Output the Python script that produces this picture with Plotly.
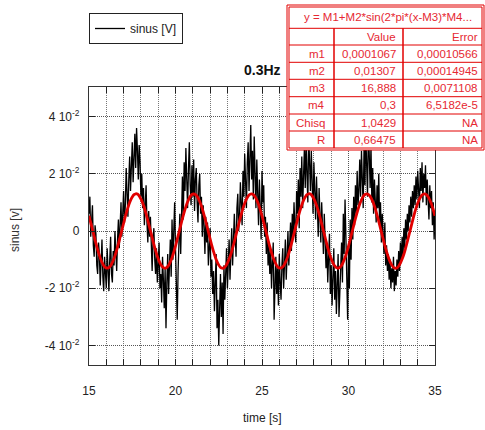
import numpy as np
import plotly.graph_objects as go

# ---------------- data ----------------
sinus_V = [
    0.006, 0.012, -0.002, 0.004, 0.009, -0.005, -0.009, 0.002, -0.001, -0.012,
    -0.015, -0.004, -0.008, -0.019, -0.011, -0.003, -0.016, -0.021, -0.009, -0.014,
    -0.020, -0.006, -0.013, -0.021, -0.010, -0.002, -0.015, -0.018, -0.007, -0.012,
    0.000, -0.009, -0.014, -0.003, 0.004, -0.006, 0.002, 0.010, -0.002, 0.006,
    0.014, 0.003, 0.009, 0.022, 0.012, 0.005, 0.018, 0.026, 0.014, 0.021,
    0.031, 0.017, 0.024, 0.034, 0.022, 0.036, 0.028, 0.018, 0.030, 0.024,
    0.012, 0.020, 0.008, 0.015, 0.002, 0.011, 0.016, 0.003, -0.004, 0.007,
    -0.002, 0.005, -0.008, -0.014, -0.003, 0.001, -0.010, -0.015, -0.006, -0.018,
    -0.012, -0.004, -0.020, -0.015, -0.025, -0.009, -0.017, -0.027, -0.013, -0.034,
    -0.018, -0.008, -0.022, -0.012, -0.003, -0.016, 0.004, -0.010, -0.002, 0.010,
    -0.006,
    -0.020, -0.031, -0.014, -0.004, 0.006, -0.008, 0.012, 0.019, 0.004, 0.024,
    0.014, 0.029, 0.018, 0.008, 0.022, 0.031, 0.016, 0.009, 0.023, 0.012,
    0.025, 0.007, 0.018, 0.022, 0.010, 0.003, 0.016, 0.020, 0.006, 0.012,
    -0.002, 0.009, 0.002, -0.008, 0.005, -0.004, 0.003, -0.012, -0.006, 0.001,
    -0.016, -0.010, -0.022, -0.014, -0.028, -0.019, -0.008, -0.034, -0.024, -0.040,
    -0.022, -0.015, -0.030, -0.018, -0.036, -0.012, -0.024, -0.016, -0.006, -0.020,
    -0.013, -0.003, -0.017, -0.009, 0.001, -0.012, -0.004, 0.006, -0.002, -0.009,
    0.008, 0.013, 0.000, 0.005, 0.017, 0.009, 0.002, 0.021, 0.012, 0.027,
    0.016, 0.008, 0.024, 0.031, 0.014, 0.022, 0.037, 0.018, 0.028, 0.011,
    0.033, 0.020, 0.008, 0.025, 0.014, 0.002, 0.018, 0.007, -0.003, 0.021,
    0.010, 0.016, -0.002, 0.005, -0.008, 0.003, -0.012, -0.004, -0.015, -0.007,
    -0.020, -0.011, -0.004, -0.031, -0.016, -0.009, -0.022, -0.013, -0.026, -0.008,
    -0.018, -0.024, -0.012, -0.006, -0.020, -0.014, -0.003, -0.017, -0.009, 0.000,
    -0.012, -0.005, 0.003, -0.007, 0.006, -0.002, 0.010, 0.002, -0.004, 0.014,
    0.006, 0.018, 0.001, 0.022, 0.012, 0.026, 0.008, 0.019, 0.029, 0.015,
    0.032, 0.020, 0.010, 0.034, 0.023, 0.014, 0.028, 0.018, 0.006, 0.024,
    0.012, 0.004, 0.019, 0.009, -0.002, 0.015, 0.005, -0.004, 0.010, 0.001,
    -0.008, 0.006, -0.003, -0.013, -0.005, -0.018, -0.009, -0.001, -0.022, -0.012,
    -0.026, -0.015, -0.006, -0.024, -0.014, -0.029, -0.018, -0.008, -0.030, -0.020,
    -0.012, -0.004, -0.018, 0.006, -0.008, 0.011, -0.002, -0.014, -0.031, -0.006,
    -0.020, 0.004, -0.010, 0.008, -0.003, 0.012, 0.002, 0.016, 0.006, 0.021,
    0.009, 0.014, 0.025, 0.012, 0.028, 0.018, 0.008, 0.030, 0.016, 0.034,
    0.021, 0.012, 0.038, 0.024, 0.015, 0.030, 0.010, 0.022, 0.006, 0.018,
    0.012, 0.003, 0.016, 0.008, 0.020, 0.002, 0.010, -0.004, 0.006, -0.002,
    -0.008, 0.003, -0.012, -0.005, -0.014, -0.008, -0.017, -0.010, -0.020, -0.013,
    -0.018, -0.009, -0.021, -0.014, -0.019, -0.010, -0.016, -0.007, -0.014, -0.004,
    -0.011, -0.002, -0.009, 0.001, -0.006, 0.004, -0.003, 0.006, 0.000, 0.009,
    0.003, 0.012, 0.005, 0.014, 0.008, 0.016, 0.009, 0.019, 0.011, 0.021,
    0.013, 0.008, 0.022, 0.014, 0.024, 0.010, 0.020, 0.015, 0.023, 0.009,
    0.018, 0.012, 0.004, 0.016, 0.008, 0.014, 0.002, 0.010, -0.003, 0.006,
]
time_s = np.round(15.0 + 0.05 * np.arange(len(sinus_V)), 2)

fit_V = [
    0.0053, 0.0029, 0.0005, -0.0019, -0.0043, -0.0065, -0.0085, -0.0102, -0.0115, -0.0125,
    -0.0129, -0.0129, -0.0125, -0.0116, -0.0103, -0.0087, -0.0067, -0.0045, -0.0021, 0.0003,
    0.0027, 0.0051, 0.0072, 0.0091, 0.0107, 0.0119, 0.0127, 0.0130, 0.0129, 0.0123,
    0.0112, 0.0098, 0.0081, 0.0060, 0.0037, 0.0013, -0.0011, -0.0035, -0.0058, -0.0079,
    -0.0097, -0.0111, -0.0122, -0.0128, -0.0130, -0.0127, -0.0120, -0.0108, -0.0093, -0.0074,
    -0.0053, -0.0029, -0.0005, 0.0019, 0.0043, 0.0065, 0.0085, 0.0102, 0.0115, 0.0125,
    0.0129, 0.0129, 0.0125, 0.0116, 0.0103, 0.0087, 0.0067, 0.0045, 0.0021, -0.0003,
    -0.0027, -0.0051, -0.0072, -0.0091, -0.0107, -0.0119, -0.0127, -0.0130, -0.0129, -0.0123,
    -0.0112, -0.0098, -0.0081, -0.0060, -0.0037, -0.0013, 0.0011, 0.0035, 0.0058, 0.0079,
    0.0097, 0.0111, 0.0122, 0.0128, 0.0130, 0.0127, 0.0120, 0.0108, 0.0093, 0.0074,
    0.0053, 0.0029, 0.0005, -0.0019, -0.0043, -0.0065, -0.0085, -0.0102, -0.0115, -0.0125,
    -0.0129, -0.0129, -0.0125, -0.0116, -0.0103, -0.0087, -0.0067, -0.0045, -0.0021, 0.0003,
    0.0027, 0.0051, 0.0072, 0.0091, 0.0107, 0.0119, 0.0127, 0.0130, 0.0129, 0.0123,
    0.0112, 0.0098, 0.0081, 0.0060, 0.0037, 0.0013, -0.0011, -0.0035, -0.0058, -0.0079,
    -0.0097, -0.0111, -0.0122, -0.0128, -0.0130, -0.0127, -0.0120, -0.0108, -0.0093, -0.0074,
    -0.0053, -0.0029, -0.0005, 0.0019, 0.0043, 0.0065, 0.0085, 0.0102, 0.0115, 0.0125,
    0.0129, 0.0129, 0.0125, 0.0116, 0.0103, 0.0087, 0.0067, 0.0045, 0.0021, -0.0003,
    -0.0027, -0.0051, -0.0072, -0.0091, -0.0107, -0.0119, -0.0127, -0.0130, -0.0129, -0.0123,
    -0.0112, -0.0098, -0.0081, -0.0060, -0.0037, -0.0013, 0.0011, 0.0035, 0.0058, 0.0079,
    0.0097, 0.0111, 0.0122, 0.0128, 0.0130, 0.0127, 0.0120, 0.0108, 0.0093, 0.0074,
    0.0053,
]
fit_time_s = np.round(15.0 + 0.1 * np.arange(len(fit_V)), 2)

x_tickvals = [15, 20, 25, 30, 35]
y_tickvals = [-0.04, -0.02, 0.0, 0.02, 0.04]
y_ticktext = ["-4 10<sup>-2</sup>", "-2 10<sup>-2</sup>", "0",
              "2 10<sup>-2</sup>", "4 10<sup>-2</sup>"]

table_title = "y = M1+M2*sin(2*pi*(x-M3)*M4..."
table_header = ["", "Value", "Error"]
param_names = ["m1", "m2", "m3", "m4", "Chisq", "R"]
param_values = ["0,0001067", "0,01307", "16,888", "0,3", "1,0429", "0,66475"]
param_errors = ["0,00010566", "0,00014945", "0,0071108", "6,5182e-5", "NA", "NA"]

# ---------------- layout geometry (pixels) ----------------
W, H = 485, 430
L, R, T, B = 89, 50, 87, 65
PW, PH = W - L - R, H - T - B
FONT = "Liberation Sans, Arial, sans-serif"
RED = "rgb(226,0,0)"
RED_TXT = "rgb(230,40,50)"
GRID = "#555"


def px(x):
    return (x - L) / PW


def py(y):
    return (H - B - y) / PH


fig = go.Figure()
fig.add_trace(go.Scatter(x=time_s, y=sinus_V, mode="lines", name="sinus [V]",
                         line=dict(color="black", width=1.3)))
fig.add_trace(go.Scatter(x=fit_time_s, y=fit_V, mode="lines", showlegend=False,
                         line=dict(color="rgb(225,0,0)", width=2.8, shape="spline")))

axis_common = dict(
    showline=True, linecolor="#333", linewidth=1.2, mirror="allticks",
    ticks="inside", ticklen=6, tickcolor="#222", tickwidth=1,
    showgrid=True, gridcolor=GRID, griddash="1px,1px", gridwidth=1,
    zeroline=False, tickfont=dict(family=FONT, size=12, color="#222"),
)

fig.update_xaxes(range=[15, 35], tickvals=x_tickvals,
                 ticklabelstandoff=14,
                 minor=dict(dtick=1, tick0=15, ticks="inside", ticklen=6,
                            tickcolor="#222", showgrid=True, gridcolor="#777",
                            griddash="1px,1px", gridwidth=1),
                 **axis_common)
fig.update_yaxes(range=[-0.0468, 0.0503], tickvals=y_tickvals, ticktext=y_ticktext,
                 ticklabelstandoff=6, **axis_common)

shapes = []
annotations = []


def label(text, x, y, size=12, color="#222", xanchor="center", angle=0):
    annotations.append(dict(text=text, x=x, y=y, xref="paper", yref="paper",
                            xanchor=xanchor, yanchor="middle", showarrow=False,
                            textangle=angle, font=dict(family=FONT, size=size, color=color)))


# title / axis titles
label("<b>0.3Hz</b>", 0.5, py(70), size=14, color="#111")
label("time [s]", px(262), py(418))
label("sinus [v]", px(15), py(230), color="#333", angle=-90)

# fit table
x0, x1, xc1, xc2 = 287, 484, 334, 403
y0, y1 = 5, 150
rows = [28.3, 45, 62.3, 79.3, 96.7, 114, 131, 148]
shapes.append(dict(type="rect", xref="paper", yref="paper", x0=px(x0), x1=px(x1),
                   y0=py(y0), y1=py(y1), fillcolor="white",
                   line=dict(color=RED, width=1), layer="above"))
shapes.append(dict(type="rect", xref="paper", yref="paper", x0=px(x0 + 2), x1=px(x1 - 2),
                   y0=py(y0 + 2), y1=py(y1 - 2), line=dict(color=RED, width=1),
                   layer="above"))
for ry in rows[:-1]:
    shapes.append(dict(type="line", xref="paper", yref="paper", x0=px(x0 + 2), x1=px(x1 - 2),
                       y0=py(ry), y1=py(ry), line=dict(color=RED, width=1), layer="above"))
for cx in (xc1, xc2):
    shapes.append(dict(type="line", xref="paper", yref="paper", x0=px(cx), x1=px(cx),
                       y0=py(rows[0]), y1=py(rows[-1]), line=dict(color=RED, width=1.5),
                       layer="above"))

label(table_title, px(388), py(17), size=11.5, color=RED_TXT)
col_right = [327, 398, 480]
row_texts = [table_header] + [[n, v, e] for n, v, e in zip(param_names, param_values, param_errors)]
for i, rt in enumerate(row_texts):
    yc = (rows[i] + rows[i + 1]) / 2
    for j, t in enumerate(rt):
        if t:
            label(t, px(col_right[j]), py(yc), size=11.5, color=RED_TXT, xanchor="right")

fig.update_layout(
    width=W, height=H, margin=dict(l=L, r=R, t=T, b=B),
    paper_bgcolor="white", plot_bgcolor="white",
    font=dict(family=FONT, size=12, color="#222"),
    showlegend=True,
    legend=dict(x=0, y=py(13), xanchor="left", yanchor="top", xref="paper", yref="paper",
                bordercolor="#222", borderwidth=1, bgcolor="white", itemwidth=30,
                font=dict(family=FONT, size=12, color="#222")),
    shapes=shapes, annotations=annotations,
)

fig.write_html("out.html")
